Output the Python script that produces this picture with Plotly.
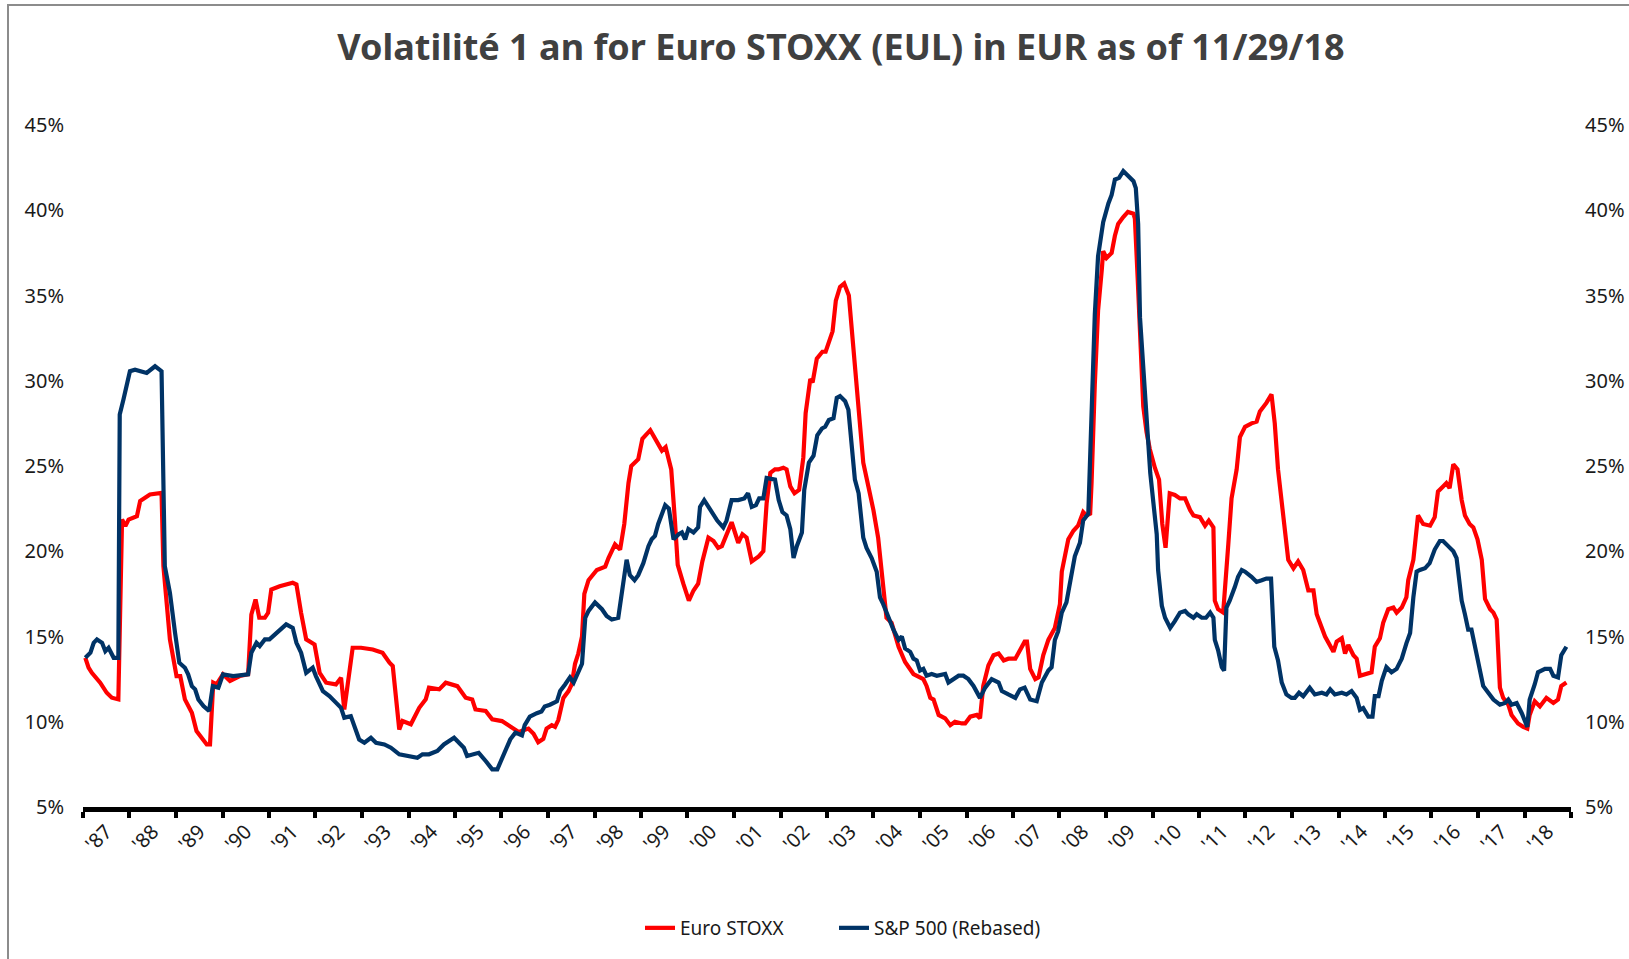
import pandas as pd
import plotly.graph_objects as go

# ---------------- data (decimal years, volatility in %) ----------------
eu_t = [1987.05, 1987.12, 1987.19, 1987.37, 1987.51, 1987.62, 1987.76, 1987.84, 1987.91, 1987.98,
        1988.16, 1988.23, 1988.44, 1988.69, 1988.73, 1988.87, 1989.01, 1989.09, 1989.19, 1989.34,
        1989.44, 1989.59, 1989.66, 1989.73, 1989.80, 1989.87, 1990.01, 1990.16, 1990.37, 1990.55,
        1990.62, 1990.71, 1990.79, 1990.91, 1990.98, 1991.05, 1991.23, 1991.51, 1991.59, 1991.69,
        1991.80, 1991.98, 1992.09, 1992.23, 1992.44, 1992.55, 1992.62, 1992.80, 1992.98, 1993.23,
        1993.44, 1993.59, 1993.66, 1993.80, 1993.87, 1994.05, 1994.23, 1994.37, 1994.44, 1994.66,
        1994.80, 1995.05, 1995.23, 1995.37, 1995.44, 1995.66, 1995.80, 1996.01, 1996.16, 1996.37,
        1996.58, 1996.69, 1996.79, 1996.90, 1996.97, 1997.08, 1997.15, 1997.22, 1997.33, 1997.44,
        1997.51, 1997.58, 1997.65, 1997.73, 1997.78, 1997.87, 1998.05, 1998.23, 1998.30, 1998.44,
        1998.55, 1998.64, 1998.73, 1998.79, 1998.94, 1999.03, 1999.20, 1999.34, 1999.45, 1999.53,
        1999.65, 1999.73, 1999.79, 1999.91, 2000.03, 2000.13, 2000.23, 2000.32, 2000.45, 2000.56,
        2000.66, 2000.74, 2000.84, 2000.95, 2001.09, 2001.18, 2001.27, 2001.38, 2001.53, 2001.63,
        2001.70, 2001.78, 2001.88, 2001.95, 2002.06, 2002.13, 2002.21, 2002.30, 2002.40, 2002.49,
        2002.54, 2002.64, 2002.69, 2002.78, 2002.90, 2002.97, 2003.12, 2003.19, 2003.28, 2003.37,
        2003.47, 2003.57, 2003.68, 2003.78, 2003.89, 2004.00, 2004.10, 2004.21, 2004.28, 2004.39,
        2004.54, 2004.68, 2004.86, 2005.07, 2005.14, 2005.22, 2005.29, 2005.40, 2005.54, 2005.65,
        2005.75, 2005.90, 2005.97, 2006.08, 2006.22, 2006.29, 2006.36, 2006.47, 2006.58, 2006.69,
        2006.80, 2006.90, 2007.05, 2007.15, 2007.25, 2007.30, 2007.37, 2007.48, 2007.55, 2007.65,
        2007.76, 2007.90, 2008.01, 2008.05, 2008.12, 2008.19, 2008.30, 2008.40, 2008.51, 2008.58,
        2008.66, 2008.69, 2008.76, 2008.83, 2008.91, 2008.94, 2009.01, 2009.12, 2009.19, 2009.26,
        2009.37, 2009.47, 2009.59, 2009.62, 2009.68, 2009.74, 2009.80, 2009.87, 2009.94, 2010.05,
        2010.14, 2010.21, 2010.28, 2010.37, 2010.48, 2010.59, 2010.70, 2010.81, 2010.88, 2011.02,
        2011.13, 2011.21, 2011.31, 2011.34, 2011.41, 2011.52, 2011.56, 2011.63, 2011.70, 2011.81,
        2011.88, 2011.99, 2012.13, 2012.24, 2012.31, 2012.45, 2012.56, 2012.63, 2012.70, 2012.85,
        2012.92, 2013.03, 2013.13, 2013.24, 2013.35, 2013.46, 2013.53, 2013.71, 2013.89, 2013.96,
        2014.07, 2014.14, 2014.21, 2014.32, 2014.39, 2014.46, 2014.57, 2014.71, 2014.78, 2014.89,
        2014.96, 2015.07, 2015.18, 2015.25, 2015.36, 2015.46, 2015.50, 2015.61, 2015.66, 2015.71,
        2015.82, 2015.97, 2016.07, 2016.14, 2016.25, 2016.32, 2016.39, 2016.47, 2016.56, 2016.65,
        2016.72, 2016.82, 2016.90, 2016.99, 2017.08, 2017.15, 2017.26, 2017.33, 2017.40, 2017.47,
        2017.54, 2017.65, 2017.72, 2017.86, 2017.97, 2018.06, 2018.11, 2018.22, 2018.33, 2018.47,
        2018.62, 2018.72, 2018.79, 2018.90]
eu_v = [13.75, 13.17, 12.87, 12.29, 11.70, 11.41, 11.31, 21.86, 21.47, 21.86,
        22.06, 22.94, 23.33, 23.42, 19.13, 14.83, 12.68, 12.68, 11.31, 10.53,
        9.45, 8.87, 8.67, 8.67, 12.29, 12.19, 12.78, 12.39, 12.68, 12.78,
        16.29, 17.17, 16.10, 16.10, 16.39, 17.76, 17.95, 18.15, 18.05, 16.39,
        14.83, 14.53, 12.87, 12.29, 12.19, 12.58, 10.72, 14.34, 14.34, 14.24,
        14.05, 13.46, 13.27, 9.55, 10.04, 9.85, 10.82, 11.31, 12.00, 11.90,
        12.29, 12.09, 11.41, 11.31, 10.72, 10.63, 10.14, 10.04, 9.75, 9.40,
        9.6, 9.3, 8.8, 9.0, 9.6, 9.8, 9.7, 10.1, 11.4, 11.8,
        12.2, 13.4, 14.0, 15.0, 17.5, 18.3, 18.9, 19.1, 19.6, 20.4,
        20.1, 21.6, 24.0, 25.0, 25.4, 26.6, 27.1, 26.4, 25.9, 26.1,
        24.8, 21.8, 19.2, 18.1, 17.1, 17.7, 18.1, 19.4, 20.8, 20.6,
        20.2, 20.3, 21.0, 21.7, 20.5, 21.0, 20.8, 19.4, 19.7, 20.0,
        22.8, 24.6, 24.8, 24.8, 24.9, 24.8, 23.8, 23.4, 23.6, 25.5,
        28.1, 30.1, 29.9, 31.3, 31.7, 31.7, 32.9, 34.7, 35.5, 35.7,
        35.0, 31.8, 28.7, 25.2, 23.8, 22.4, 20.8, 17.7, 16.1, 15.8,
        14.4, 13.5, 12.8, 12.5, 12.1, 11.4, 11.3, 10.4, 10.2, 9.8,
        10.0, 9.9, 9.9, 10.3, 10.4, 10.2, 12.1, 13.3, 13.9, 14.0,
        13.6, 13.7, 13.7, 14.2, 14.7, 14.7, 13.1, 12.5, 12.6, 13.9,
        14.8, 15.5, 16.9, 18.8, 19.9, 20.7, 21.2, 21.5, 22.3, 22.1,
        22.2, 24.0, 29.8, 34.1, 36.5, 37.6, 37.2, 37.5, 38.5, 39.2,
        39.6, 39.9, 39.8, 39.5, 36.0, 31.5, 28.5, 27.0, 26.0, 24.9,
        24.2, 21.6, 20.2, 23.4, 23.3, 23.1, 23.1, 22.4, 22.1, 22.0,
        21.5, 21.8, 21.4, 17.1, 16.6, 16.4, 17.7, 20.4, 23.1, 24.8,
        26.7, 27.3, 27.5, 27.6, 28.2, 28.7, 29.2, 27.5, 24.8, 20.8,
        19.5, 19.0, 19.4, 18.9, 17.7, 17.7, 16.3, 15.0, 14.1, 14.7,
        14.9, 14.0, 14.5, 13.9, 13.7, 12.7, 12.8, 12.9, 14.4, 14.9,
        15.8, 16.6, 16.7, 16.4, 16.7, 17.3, 18.3, 19.5, 20.8, 22.1,
        21.6, 21.5, 22.0, 23.5, 23.8, 24.0, 23.7, 25.1, 24.8, 23.0,
        22.1, 21.6, 21.4, 20.7, 19.5, 17.2, 16.6, 16.4, 16.0, 12.0,
        11.4, 11.0, 10.4, 9.9, 9.7, 9.6, 10.4, 11.2, 10.9, 11.4,
        11.1, 11.3, 12.1, 12.3]

sp_t = [1987.05, 1987.16, 1987.23, 1987.30, 1987.41, 1987.48, 1987.55, 1987.66, 1987.76, 1987.79,
        1987.87, 1988.01, 1988.12, 1988.37, 1988.55, 1988.69, 1988.76, 1988.87, 1988.98, 1989.07,
        1989.19, 1989.26, 1989.34, 1989.41, 1989.48, 1989.59, 1989.71, 1989.79, 1989.91, 1990.01,
        1990.23, 1990.55, 1990.62, 1990.73, 1990.80, 1990.91, 1991.01, 1991.12, 1991.23, 1991.37,
        1991.51, 1991.59, 1991.69, 1991.80, 1991.94, 1992.01, 1992.16, 1992.30, 1992.44, 1992.55,
        1992.62, 1992.76, 1992.94, 1993.05, 1993.19, 1993.30, 1993.48, 1993.62, 1993.80, 1993.98,
        1994.19, 1994.30, 1994.44, 1994.62, 1994.76, 1994.98, 1995.09, 1995.19, 1995.26, 1995.41,
        1995.51, 1995.66, 1995.80, 1995.91, 1996.05, 1996.19, 1996.30, 1996.44, 1996.50, 1996.61,
        1996.76, 1996.86, 1996.93, 1997.04, 1997.19, 1997.26, 1997.37, 1997.47, 1997.55, 1997.64,
        1997.73, 1997.80, 1997.87, 1998.01, 1998.16, 1998.26, 1998.37, 1998.51, 1998.59, 1998.69,
        1998.76, 1998.86, 1998.94, 1999.05, 1999.16, 1999.23, 1999.30, 1999.37, 1999.52, 1999.60,
        1999.70, 1999.81, 1999.88, 1999.95, 2000.02, 2000.13, 2000.23, 2000.27, 2000.36, 2000.46,
        2000.56, 2000.64, 2000.77, 2000.84, 2000.95, 2001.09, 2001.22, 2001.30, 2001.38, 2001.47,
        2001.54, 2001.63, 2001.70, 2001.81, 2001.88, 2001.96, 2002.04, 2002.13, 2002.21, 2002.28,
        2002.35, 2002.46, 2002.51, 2002.61, 2002.71, 2002.79, 2002.89, 2002.96, 2003.04, 2003.14,
        2003.21, 2003.28, 2003.39, 2003.46, 2003.53, 2003.60, 2003.68, 2003.78, 2003.85, 2003.96,
        2004.07, 2004.14, 2004.21, 2004.32, 2004.43, 2004.54, 2004.61, 2004.68, 2004.79, 2004.86,
        2004.93, 2005.00, 2005.07, 2005.14, 2005.25, 2005.36, 2005.47, 2005.54, 2005.61, 2005.72,
        2005.83, 2005.93, 2006.04, 2006.15, 2006.29, 2006.40, 2006.54, 2006.69, 2006.76, 2006.90,
        2007.05, 2007.15, 2007.25, 2007.37, 2007.51, 2007.62, 2007.76, 2007.83, 2007.90, 2007.97,
        2008.05, 2008.15, 2008.26, 2008.33, 2008.44, 2008.51, 2008.62, 2008.69, 2008.76, 2008.83,
        2008.94, 2009.05, 2009.12, 2009.19, 2009.28, 2009.37, 2009.48, 2009.59, 2009.64, 2009.69,
        2009.73, 2009.80, 2009.87, 2009.95, 2010.02, 2010.09, 2010.12, 2010.20, 2010.27, 2010.38,
        2010.48, 2010.59, 2010.70, 2010.77, 2010.88, 2010.95, 2011.06, 2011.15, 2011.24, 2011.31,
        2011.34, 2011.41, 2011.49, 2011.54, 2011.59, 2011.66, 2011.77, 2011.84, 2011.92, 2011.99,
        2012.13, 2012.24, 2012.35, 2012.45, 2012.55, 2012.62, 2012.70, 2012.78, 2012.88, 2012.99,
        2013.06, 2013.15, 2013.24, 2013.38, 2013.49, 2013.64, 2013.74, 2013.82, 2013.92, 2014.07,
        2014.17, 2014.28, 2014.39, 2014.46, 2014.53, 2014.64, 2014.73, 2014.78, 2014.86, 2014.93,
        2015.03, 2015.14, 2015.25, 2015.36, 2015.46, 2015.54, 2015.61, 2015.68, 2015.75, 2015.86,
        2015.96, 2016.07, 2016.18, 2016.25, 2016.36, 2016.47, 2016.54, 2016.65, 2016.72, 2016.79,
        2016.86, 2016.97, 2017.04, 2017.11, 2017.22, 2017.33, 2017.47, 2017.58, 2017.65, 2017.72,
        2017.83, 2017.94, 2018.06, 2018.11, 2018.22, 2018.29, 2018.44, 2018.55, 2018.62, 2018.72,
        2018.79, 2018.90]
sp_v = [13.75, 14.05, 14.63, 14.83, 14.63, 14.14, 14.34, 13.75, 13.75, 28.02,
        28.90, 30.56, 30.65, 30.46, 30.85, 30.56, 19.13, 17.56, 15.22, 13.46,
        13.17, 12.78, 12.09, 11.90, 11.31, 10.92, 10.63, 12.09, 12.00, 12.78,
        12.68, 12.78, 14.05, 14.63, 14.44, 14.83, 14.83, 15.12, 15.41, 15.71,
        15.51, 14.63, 14.05, 12.87, 13.17, 12.68, 11.80, 11.51, 11.12, 10.82,
        10.24, 10.33, 8.96, 8.77, 9.06, 8.77, 8.67, 8.48, 8.09, 7.99,
        7.89, 8.09, 8.09, 8.28, 8.67, 9.06, 8.77, 8.48, 7.99, 8.09,
        8.18, 7.70, 7.21, 7.21, 8.09, 8.97, 9.36, 9.2, 9.8, 10.3,
        10.5, 10.6, 10.9, 11.0, 11.2, 11.8, 12.2, 12.6, 12.3, 12.9,
        13.4, 16.1, 16.5, 17.0, 16.6, 16.2, 16.0, 16.1, 17.7, 19.5,
        18.6, 18.3, 18.6, 19.3, 20.3, 20.7, 20.9, 21.6, 22.7, 22.5,
        20.7, 21.0, 21.1, 20.7, 21.3, 21.1, 21.4, 22.6, 23.0, 22.6,
        22.2, 21.8, 21.4, 21.8, 23.0, 23.0, 23.1, 23.4, 22.6, 22.7,
        23.1, 23.1, 24.3, 24.2, 24.2, 23.0, 22.3, 22.1, 21.3, 19.6,
        20.3, 21.1, 23.6, 25.2, 25.6, 26.8, 27.2, 27.3, 27.7, 27.8,
        29.0, 29.1, 28.8, 28.3, 26.1, 24.2, 23.4, 20.8, 20.2, 19.6,
        18.8, 17.3, 16.9, 16.1, 15.4, 14.8, 15.0, 14.3, 14.1, 13.7,
        13.6, 13.0, 13.1, 12.7, 12.8, 12.7, 12.8, 12.8, 12.3, 12.5,
        12.7, 12.7, 12.5, 12.1, 11.4, 12.0, 12.5, 12.3, 11.8, 11.6,
        11.4, 11.9, 12.0, 11.3, 11.2, 12.3, 13.0, 13.2, 14.8, 15.3,
        16.4, 17.0, 18.7, 19.7, 20.5, 21.8, 22.2, 28.9, 33.9, 37.3,
        39.3, 40.4, 40.9, 41.8, 41.9, 42.3, 42.0, 41.7, 41.3, 39.2,
        33.7, 30.8, 27.9, 24.6, 22.8, 21.0, 18.9, 16.8, 16.1, 15.5,
        15.9, 16.4, 16.5, 16.3, 16.1, 16.3, 16.1, 16.1, 16.4, 16.1,
        14.8, 14.2, 13.2, 13.0, 16.7, 17.1, 17.9, 18.5, 18.9, 18.8,
        18.5, 18.2, 18.3, 18.4, 18.4, 14.4, 13.6, 12.3, 11.6, 11.4,
        11.4, 11.7, 11.5, 12.0, 11.6, 11.7, 11.6, 11.9, 11.6, 11.7,
        11.6, 11.8, 11.4, 10.7, 10.8, 10.3, 10.3, 11.5, 11.5, 12.4,
        13.2, 12.9, 13.1, 13.7, 14.6, 15.2, 17.3, 18.8, 18.9, 19.0,
        19.3, 20.1, 20.6, 20.6, 20.3, 20.0, 19.6, 17.1, 16.3, 15.4,
        15.4, 14.0, 13.0, 12.1, 11.7, 11.3, 11.0, 11.1, 11.3, 11.0,
        11.1, 10.5, 9.7, 11.3, 12.2, 12.9, 13.1, 13.1, 12.7, 12.6,
        13.9, 14.4]

years = list(range(1987, 2019))
year_labels = ["'" + str(y)[2:] for y in years]
y_ticks = [5, 10, 15, 20, 25, 30, 35, 40, 45]
y_tick_labels = [f"{v}%" for v in y_ticks]

series_names = ["Euro STOXX", "S&P 500 (Rebased)"]
title_text = "Volatilité 1 an for Euro STOXX (EUL) in EUR as of 11/29/18"


def to_dates(ts):
    out = []
    for t in ts:
        y = int(t)
        out.append(pd.Timestamp(year=y, month=1, day=1) + pd.Timedelta(days=(t - y) * 365.25))
    return out


label_pos = [pd.Timestamp(year=y, month=7, day=2) for y in years]
year_starts = [pd.Timestamp(year=y, month=1, day=1) for y in years + [2019]]

RED = "#FF0000"
NAVY = "#003366"
FONT = "Noto Sans"

fig = go.Figure()
fig.add_trace(go.Scatter(x=to_dates(eu_t), y=eu_v, name=series_names[0], mode="lines",
                         line=dict(color=RED, width=4.2), legend="legend"))
fig.add_trace(go.Scatter(x=to_dates(sp_t), y=sp_v, name=series_names[1], mode="lines",
                         line=dict(color=NAVY, width=4.2), yaxis="y2", legend="legend2"))

W, H = 1629, 959
ML, MR, MT, MB = 83, 58, 125, 152
pw, ph = W - ML - MR, H - MT - MB

yax = dict(range=[5, 45], tickvals=y_ticks, ticktext=y_tick_labels, showgrid=False,
           zeroline=False, showline=False, ticks="", ticklabelstandoff=18, automargin=False,
           tickfont=dict(family=FONT, size=20, color="#1a1a1a"), fixedrange=True)

leg = dict(orientation="h", xanchor="left", y=-(928 - (MT + ph)) / ph, yanchor="middle",
           font=dict(family=FONT, size=19, color="#1a1a1a"), bgcolor="rgba(0,0,0,0)",
           borderwidth=0)

fig.update_layout(
    width=W, height=H,
    margin=dict(l=ML, r=MR, t=MT, b=MB, autoexpand=False),
    paper_bgcolor="white", plot_bgcolor="white",
    title=dict(text=title_text, x=841 / W, xref="container", xanchor="center",
               y=1 - 47 / H, yref="container", yanchor="middle",
               font=dict(family=FONT, size=36, color="#404040", weight="bold")),
    xaxis=dict(type="date", range=[year_starts[0], year_starts[-1]], automargin=False,
               tickvals=label_pos, ticktext=year_labels, ticks="", tickangle=-45,
               showgrid=False, zeroline=False, showline=True, linecolor="black", linewidth=5,
               tickfont=dict(family=FONT, size=20, color="#1a1a1a"), fixedrange=True,
               minor=dict(tickvals=year_starts, ticks="outside", ticklen=6, tickwidth=4,
                          tickcolor="black", showgrid=False)),
    yaxis=yax,
    yaxis2=dict(yax, overlaying="y", side="right", ticklabelstandoff=13),
    showlegend=True,
    legend=dict(leg, x=(640 - ML) / pw),
    legend2=dict(leg, x=(834 - ML) / pw),
    shapes=[dict(type="rect", xref="paper", yref="paper",
                 x0=(8 - ML) / pw, x1=(W + 20 - ML) / pw,
                 y0=-(H + 20 - MT - ph) / ph, y1=(MT + ph - 5) / ph,
                 line=dict(color="#8c8c8c", width=2), fillcolor="rgba(0,0,0,0)", layer="below")],
)

fig.write_html("out.html", config={"displayModeBar": False},
               post_script="document.body.style.margin='0';")
